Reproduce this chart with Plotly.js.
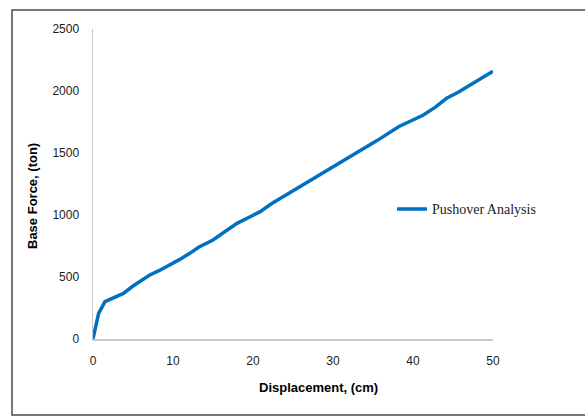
<!DOCTYPE html>
<html>
<head>
<meta charset="utf-8">
<script src="https://cdn.plot.ly/plotly-3.0.1.min.js"></script>
<style>
  html, body { margin: 0; padding: 0; background: #fff; }
  #chart { width: 585px; height: 417px; }
</style>
</head>
<body>
<div id="chart"></div>
<script>
// Pushover curve: roof displacement (cm) vs. base shear (ton)
const displacementCm = [0, 0.7, 1.5, 2.1, 3.0, 3.8, 5.0, 6.0, 7.1, 8.3, 9.6, 10.8, 12.1, 13.2,
  15.0, 16.5, 18.0, 19.4, 20.9, 22.3, 23.8, 25.7, 27.2, 28.8, 30.9, 33.0, 35.5, 38.2,
  39.8, 41.3, 42.8, 44.2, 45.7, 47.1, 48.6, 50.0];
const baseForceTon = [0, 207, 301, 320, 345, 368, 427, 470, 516, 553, 597, 640, 691, 740,
  798, 867, 933, 978, 1027, 1090, 1148, 1215, 1275, 1336, 1415, 1497, 1600, 1712,
  1760, 1806, 1870, 1941, 1992, 2048, 2100, 2160];
const seriesName = 'Pushover Analysis';
const xTickValues = [0, 10, 20, 30, 40, 50];
const yTickValues = [0, 500, 1000, 1500, 2000, 2500];
const xTitle = 'Displacement, (cm)';
const yTitle = 'Base Force, (ton)';

const tickFont = { family: 'Liberation Sans, Arial, sans-serif', size: 12, color: '#1a1a1a' };
const titleFont = { family: 'Liberation Sans, Arial, sans-serif', size: 13, color: '#000', weight: 'bold' };

const trace = {
  x: displacementCm,
  y: baseForceTon,
  name: seriesName,
  type: 'scatter',
  mode: 'lines',
  line: { color: '#0070C0', width: 3.5, shape: 'linear' },
  showlegend: true
};

const layout = {
  width: 585,
  height: 417,
  margin: { l: 93, r: 92, t: 29, b: 78 },
  paper_bgcolor: '#fff',
  plot_bgcolor: '#fff',
  xaxis: {
    range: [0, 50],
    tickvals: xTickValues,
    showgrid: false,
    zeroline: false,
    showline: true,
    linecolor: '#C8C8C8',
    linewidth: 1.5,
    ticks: '',
    tickfont: tickFont,
    ticklabelstandoff: 10,
    fixedrange: true
  },
  yaxis: {
    range: [0, 2500],
    tickvals: yTickValues,
    showgrid: false,
    zeroline: false,
    showline: true,
    linecolor: '#C8C8C8',
    linewidth: 1.5,
    ticks: '',
    tickfont: tickFont,
    ticklabelstandoff: 10,
    fixedrange: true
  },
  legend: {
    x: 0.7475,
    y: 0.418,
    xanchor: 'left',
    yanchor: 'middle',
    bgcolor: 'rgba(0,0,0,0)',
    font: { family: 'Liberation Serif, Times New Roman, serif', size: 14, color: '#222' },
    itemwidth: 30
  },
  annotations: [
    {
      text: xTitle, xref: 'paper', yref: 'paper',
      x: (318 - 93) / 400, y: (339 - 388) / 310,
      xanchor: 'center', yanchor: 'middle', showarrow: false, font: titleFont
    },
    {
      text: yTitle, xref: 'paper', yref: 'paper', textangle: -90,
      x: (32 - 93) / 400, y: (339 - 196) / 310,
      xanchor: 'center', yanchor: 'middle', showarrow: false, font: titleFont
    }
  ],
  shapes: [
    {
      type: 'rect', xref: 'paper', yref: 'paper',
      x0: (12 - 93) / 400, x1: (600 - 93) / 400,
      y0: (339 - 415) / 310, y1: (339 - 10) / 310,
      line: { color: '#4a4a4a', width: 1.5 },
      fillcolor: 'rgba(0,0,0,0)',
      layer: 'below'
    }
  ]
};

Plotly.newPlot('chart', [trace], layout, { staticPlot: true, displayModeBar: false });
</script>
</body>
</html>
